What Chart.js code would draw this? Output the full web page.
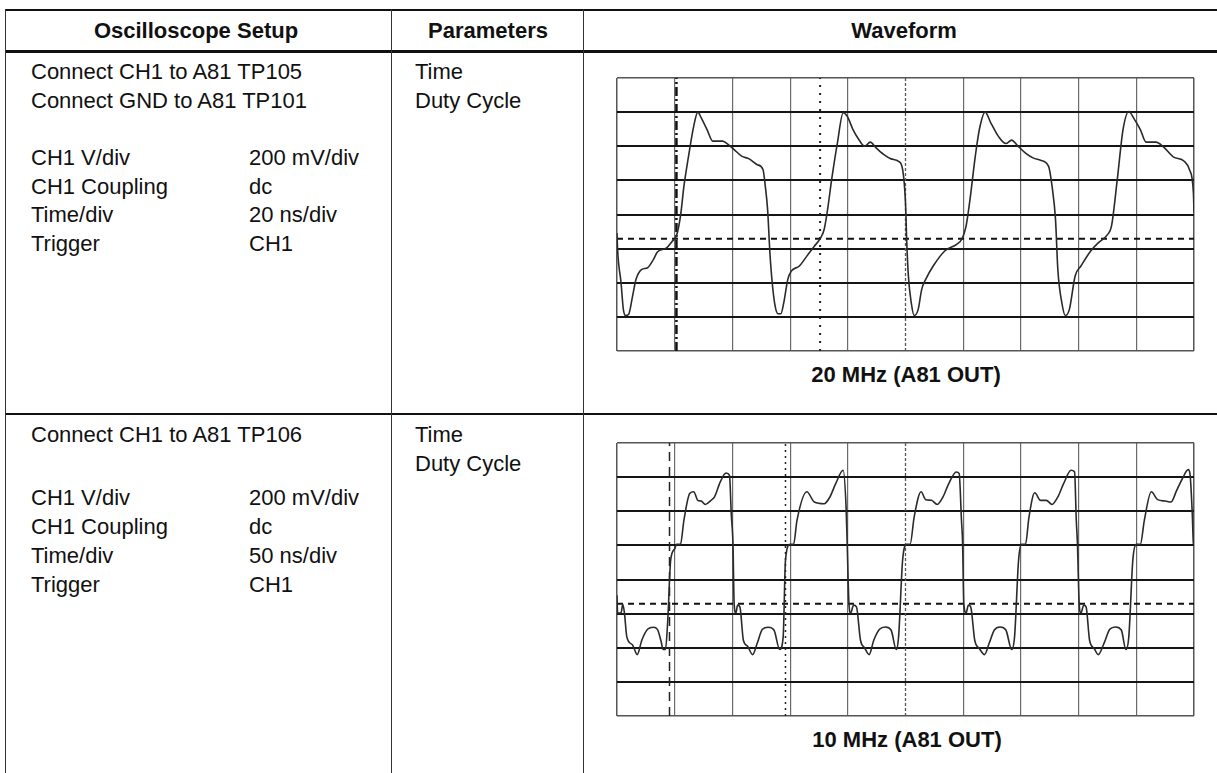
<!DOCTYPE html>
<html>
<head>
<meta charset="utf-8">
<script src="https://cdn.jsdelivr.net/npm/chart.js@4.4.1/dist/chart.umd.min.js"></script>
<style>
  html, body { margin: 0; padding: 0; background: #fff; }
  body { width: 1217px; height: 773px; position: relative; overflow: hidden;
         font-family: "Liberation Sans", Arial, Helvetica, sans-serif; color: #111; }
  .ln { position: absolute; background: #111; }
  .t { position: absolute; font-size: 22px; line-height: 28px; white-space: nowrap; }
  .h { position: absolute; font-family: "Liberation Sans", Arial, Helvetica, sans-serif;
       font-weight: bold; font-size: 22px; white-space: nowrap; transform: translate(-50%, -50%); }
  canvas { position: absolute; }
</style>
</head>
<body>
<!-- table rules -->
<div class="ln" style="left:5px;top:9px;width:1212px;height:2px;"></div>
<div class="ln" style="left:5px;top:50px;width:1212px;height:3px;"></div>
<div class="ln" style="left:5px;top:413px;width:1212px;height:2px;"></div>
<div class="ln" style="left:5px;top:9px;width:1px;height:764px;background:#333"></div>
<div class="ln" style="left:391px;top:9px;width:1px;height:764px;background:#333"></div>
<div class="ln" style="left:583px;top:9px;width:1px;height:764px;background:#333"></div>

<div class="h" style="left:196px;top:31px;">Oscilloscope Setup</div>
<div class="h" style="left:488px;top:31px;">Parameters</div>
<div class="h" style="left:904px;top:31px;">Waveform</div>

<div class="t" style="left:31px;top:58px;">Connect CH1 to A81 TP105</div>
<div class="t" style="left:31px;top:87px;">Connect GND to A81 TP101</div>
<div class="t" style="left:31px;top:144px;">CH1 V/div</div>
<div class="t" style="left:249px;top:144px;">200 mV/div</div>
<div class="t" style="left:31px;top:173px;">CH1 Coupling</div>
<div class="t" style="left:249px;top:173px;">dc</div>
<div class="t" style="left:31px;top:201px;">Time/div</div>
<div class="t" style="left:249px;top:201px;">20 ns/div</div>
<div class="t" style="left:31px;top:230px;">Trigger</div>
<div class="t" style="left:249px;top:230px;">CH1</div>
<div class="t" style="left:415px;top:58px;">Time</div>
<div class="t" style="left:415px;top:87px;">Duty Cycle</div>

<div class="t" style="left:31px;top:421px;">Connect CH1 to A81 TP106</div>
<div class="t" style="left:31px;top:484px;">CH1 V/div</div>
<div class="t" style="left:249px;top:484px;">200 mV/div</div>
<div class="t" style="left:31px;top:513px;">CH1 Coupling</div>
<div class="t" style="left:249px;top:513px;">dc</div>
<div class="t" style="left:31px;top:542px;">Time/div</div>
<div class="t" style="left:249px;top:542px;">50 ns/div</div>
<div class="t" style="left:31px;top:571px;">Trigger</div>
<div class="t" style="left:249px;top:571px;">CH1</div>
<div class="t" style="left:415px;top:421px;">Time</div>
<div class="t" style="left:415px;top:450px;">Duty Cycle</div>

<canvas id="scope1" width="583" height="279" style="left:614px;top:75px;"></canvas>
<div class="h" style="left:906px;top:375px;">20 MHz (A81 OUT)</div>
<canvas id="scope2" width="583" height="279" style="left:614px;top:440px;"></canvas>
<div class="h" style="left:907px;top:740px;">10 MHz (A81 OUT)</div>

<script>
// ---- data (screen divisions: time 0..10 div, voltage 0..8 div, 4 = centre) ----
const scope1Time = [0,0.01,0.07,0.11,0.15,0.2,0.27,0.33,0.43,0.53,0.63,0.7,0.86,0.96,1.03,1.1,1.16,1.24,1.33,1.4,1.46,1.56,1.66,1.83,1.89,2.03,2.16,2.29,2.43,2.53,2.57,2.61,2.65,2.69,2.74,2.79,2.84,2.89,2.96,3.02,3.16,3.29,3.42,3.52,3.59,3.65,3.72,3.82,3.92,3.99,4.09,4.19,4.29,4.39,4.49,4.62,4.75,4.88,4.95,5.0,5.02,5.05,5.1,5.15,5.22,5.28,5.35,5.48,5.68,5.88,5.98,6.05,6.11,6.21,6.28,6.38,6.48,6.61,6.74,6.84,6.94,7.08,7.21,7.34,7.48,7.54,7.6,7.64,7.71,7.77,7.84,7.94,8.04,8.21,8.34,8.5,8.57,8.67,8.77,8.87,8.97,9.07,9.17,9.34,9.47,9.64,9.83,9.92,9.99,10.0];
const scope1Volt = [3.46,2.98,2.0,1.22,1.04,1.07,1.61,2.1,2.39,2.44,2.68,2.9,3.02,3.22,3.37,3.95,4.83,5.71,6.59,7.0,6.83,6.49,6.15,6.15,6.1,5.9,5.71,5.63,5.46,5.32,4.83,4.15,2.88,2.0,1.32,1.09,1.09,1.41,2.1,2.34,2.49,2.78,3.07,3.29,3.56,4.15,5.02,6.1,6.98,6.88,6.49,6.2,6.0,6.12,5.95,5.76,5.63,5.56,5.32,4.34,3.27,2.2,1.41,1.04,1.22,1.8,2.1,2.49,2.93,3.12,3.29,3.66,4.34,5.71,6.49,7.0,6.68,6.29,6.08,6.18,6.02,5.8,5.66,5.59,5.41,4.83,3.85,2.39,1.41,1.04,1.22,2.2,2.49,2.93,3.17,3.41,3.66,5.02,6.49,7.02,6.78,6.49,6.12,6.12,5.98,5.69,5.56,5.32,4.63,4.05];
const scope1Trigger = 3.29;
const scope1Cursors = [1.03, 3.52];

const scope2Time = [0,0.01,0.07,0.1,0.13,0.17,0.27,0.35,0.43,0.53,0.63,0.7,0.76,0.8,0.84,0.88,0.93,1.0,1.03,1.1,1.16,1.26,1.33,1.4,1.46,1.53,1.63,1.69,1.79,1.89,1.95,1.98,2.01,2.03,2.06,2.09,2.13,2.19,2.26,2.35,2.43,2.52,2.62,2.72,2.82,2.88,2.92,3.0,3.06,3.12,3.29,3.42,3.59,3.69,3.79,3.92,3.97,3.99,4.02,4.05,4.1,4.15,4.22,4.29,4.37,4.45,4.55,4.65,4.75,4.84,4.88,4.95,5.02,5.08,5.15,5.27,5.35,5.45,5.55,5.65,5.75,5.88,5.93,5.97,5.99,6.01,6.05,6.09,6.13,6.2,6.28,6.37,6.45,6.54,6.64,6.74,6.84,6.89,6.96,7.01,7.08,7.14,7.24,7.34,7.44,7.54,7.64,7.74,7.87,7.93,7.96,7.98,8.01,8.04,8.09,8.13,8.19,8.27,8.34,8.44,8.54,8.64,8.74,8.82,8.87,8.94,9.0,9.07,9.14,9.26,9.37,9.5,9.6,9.7,9.8,9.9,9.93,9.97,9.99,10.0];
const scope2Volt = [3.54,3.02,3.02,3.27,3.0,2.32,2.08,1.8,2.22,2.54,2.6,2.54,2.22,1.95,1.95,2.81,4.57,4.9,5.03,5.03,5.74,6.52,6.57,6.32,6.3,6.2,6.32,6.42,6.86,7.12,7.05,5.93,5.03,3.3,3.02,3.25,3.2,2.22,2.05,1.8,2.13,2.54,2.6,2.52,1.95,2.32,4.57,5.03,5.03,5.74,6.57,6.27,6.22,6.42,6.81,7.2,6.13,5.02,3.3,3.02,3.25,3.2,2.22,2.0,1.8,2.22,2.54,2.61,2.52,1.95,2.32,4.57,5.03,5.03,5.83,6.57,6.34,6.32,6.2,6.42,6.81,7.15,7.1,5.74,5.05,3.3,3.02,3.25,3.2,2.22,1.98,1.8,2.13,2.52,2.61,2.52,1.95,2.32,4.57,5.03,5.03,5.83,6.54,6.32,6.32,6.2,6.42,6.81,7.2,7.15,5.74,5.05,3.3,3.02,3.25,3.2,2.22,1.98,1.8,2.13,2.54,2.61,2.52,1.95,2.32,4.57,5.03,5.03,5.74,6.57,6.34,6.3,6.27,6.61,6.96,7.22,7.1,5.93,5.05,5.03];
const scope2Trigger = 3.29;
const scope2Cursors = [0.91, 2.92];

const timeDivisions = 10;
const voltDivisions = 8;
const centreDivision = 5;

function makeScope(id, times, volts, trigger, cursors, cursorStyles) {
  const trace = times.map((t, i) => ({ x: t, y: volts[i] }));
  const datasets = [{
    data: trace, borderColor: '#2a2a2a', borderWidth: 1.6, pointRadius: 0,
    cubicInterpolationMode: 'monotone', order: 0
  }, {
    data: [{ x: 0, y: trigger }, { x: timeDivisions, y: trigger }],
    borderColor: '#111', borderWidth: 2, borderDash: [6, 5], pointRadius: 0, order: 1
  }, {
    // dotted centre graticule line
    data: [{ x: centreDivision, y: 0 }, { x: centreDivision, y: voltDivisions }],
    borderColor: '#555', borderWidth: 1.3, borderDash: [3, 2], pointRadius: 0, order: 3
  }];
  cursors.forEach((c, i) => {
    datasets.push({
      data: [{ x: c, y: 0 }, { x: c, y: voltDivisions }],
      borderColor: cursorStyles[i].color, borderWidth: cursorStyles[i].width,
      borderDash: cursorStyles[i].dash, pointRadius: 0, order: 2
    });
  });
  const edgeX = (v) => v === 0 || v === timeDivisions;
  const edgeY = (v) => v === 0 || v === voltDivisions;
  new Chart(document.getElementById(id), {
    type: 'line',
    data: { datasets },
    options: {
      responsive: false, animation: false, events: [],
      layout: { padding: 3 },
      plugins: { legend: { display: false }, tooltip: { enabled: false } },
      scales: {
        x: {
          type: 'linear', min: 0, max: timeDivisions,
          ticks: { display: false, stepSize: 1 },
          grid: {
            drawTicks: false,
            color: (c) => !c.tick ? '#666' : (c.tick.value === centreDivision ? 'rgba(0,0,0,0)' : (edgeX(c.tick.value) ? '#555' : '#6a6a6a')),
            lineWidth: (c) => (c.tick && edgeX(c.tick.value)) ? 1.5 : 1.2
          },
          border: { display: false }
        },
        y: {
          type: 'linear', min: 0, max: voltDivisions,
          ticks: { display: false, stepSize: 1 },
          grid: {
            drawTicks: false,
            color: (c) => (c.tick && edgeY(c.tick.value)) ? '#555' : '#151515',
            lineWidth: (c) => (c.tick && edgeY(c.tick.value)) ? 1.5 : 2
          },
          border: { display: false }
        }
      }
    }
  });
}

makeScope('scope1', scope1Time, scope1Volt, scope1Trigger, scope1Cursors, [
  { color: '#111', width: 2.5, dash: [9, 3, 2, 3] },
  { color: '#222', width: 2, dash: [2, 6] }
]);
makeScope('scope2', scope2Time, scope2Volt, scope2Trigger, scope2Cursors, [
  { color: '#222', width: 1.5, dash: [9, 6] },
  { color: '#222', width: 1.5, dash: [2, 4] }
]);
</script>
</body>
</html>
